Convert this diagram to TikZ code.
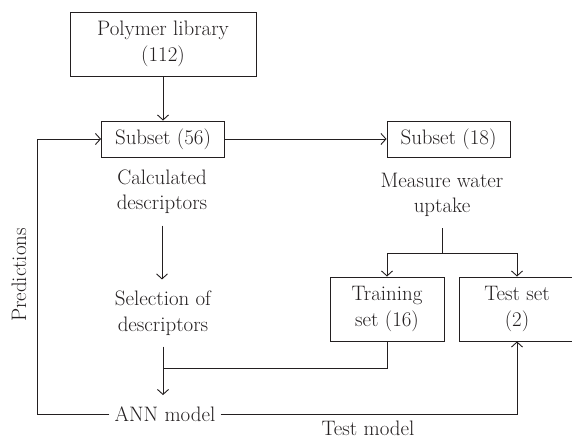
\documentclass[tikz,border=0pt]{standalone}
\usetikzlibrary{arrows.meta,calc}
\newcommand\dfs{\fontsize{21}{25.5}\selectfont}
\definecolor{ink}{HTML}{231F20}
\begin{document}
\begin{tikzpicture}[x=1bp,y=-1bp,line width=0.9bp,color=ink,
  >={Straight Barb[length=5bp,width=11bp]},
  box/.style={draw,align=center,inner sep=0pt,font=\dfs},
  lbl/.style={align=center,inner xsep=5bp,inner ysep=11bp,font=\dfs}]
\useasboundingbox (0,0) rectangle (572,438);
\node[box,minimum width=186bp,minimum height=64bp] (poly) at (163,44) {Polymer library\\(112)};
\node[box,minimum width=123bp,minimum height=36bp] (s56) at (163,139) {Subset (56)};
\node[box,minimum width=123bp,minimum height=36bp] (s18) at (448.5,139) {Subset (18)};
\node[box,minimum width=114bp,minimum height=64bp] (train) at (387,309) {Training\\set (16)};
\node[box,minimum width=116bp,minimum height=64bp] (test) at (517,309) {Test set\\(2)};
\node[lbl] (calc) at (162,192) {Calculated\\descriptors};
\node[lbl] (sel) at (163,313) {Selection of\\descriptors};
\node[lbl] (meas) at (442,195) {Measure water\\uptake};
\node[lbl] (ann) at (165,414) {ANN model};
\node[lbl,inner ysep=1bp] (tm) at (368,428) {Test model};
\node[lbl,rotate=90] (pred) at (19,275) {Predictions};
\coordinate (lc) at (37,414);
\coordinate (j) at (163,368);
\draw[->] (poly.south) -- (poly.south |- s56.north);
\draw[->] (s56) -- (s18);
\draw[->] (calc.south) -- (calc.south |- sel.north);
\draw[->] (sel.south) -- (sel.south |- ann.north);
\draw (train.south) |- (j);
\draw (meas.south) -- ++(0,25) coordinate (split);
\draw[->] (split) -| (train.north);
\draw[->] (split) -| (test.north);
\draw[->] (ann.west) -- (lc) |- (s56.west);
\draw[->] (ann.east) -| (test.south);
\end{tikzpicture}
\end{document}
